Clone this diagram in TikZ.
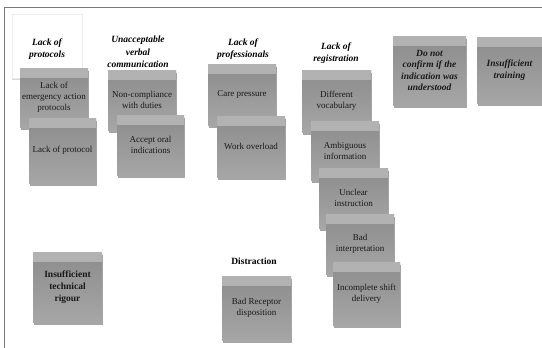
\documentclass[tikz,border=0pt]{standalone}
\usepackage{fontspec}
\setmainfont{Liberation Serif}
\usetikzlibrary{shadows}
\definecolor{bandgray}{RGB}{178,178,178}
\definecolor{bodytop}{RGB}{140,140,140}
\definecolor{bodybot}{RGB}{166,166,166}
\definecolor{txt}{RGB}{25,25,25}
\definecolor{framegray}{RGB}{120,120,120}
\tikzset{
  note/.style={rectangle, inner sep=2pt, align=center, text=txt,
    font=\fontsize{9}{11}\selectfont,
    top color=bodytop, bottom color=bodybot, draw=none,
    drop shadow={shadow xshift=0.5pt, shadow yshift=-2.5pt, opacity=0.35, fill=black},
    path picture={\fill[bandgray] (path picture bounding box.north west) rectangle ([yshift=-10pt]path picture bounding box.north east);}},
  notebi/.style={note, font=\fontsize{9.5}{11.5}\selectfont\bfseries\itshape},
  noteb/.style={note, font=\fontsize{9.5}{12}\selectfont\bfseries},
  ttl/.style={align=center, font=\fontsize{9.5}{12.5}\selectfont\bfseries\itshape, text=black},
  whitenote/.style={rectangle, fill=white, draw=gray!15, line width=0.4pt,
    drop shadow={shadow xshift=0pt, shadow yshift=-1.5pt, opacity=0.15, fill=black}},
}
\begin{document}
\begin{tikzpicture}[x=1pt,y=-1pt]
\useasboundingbox (0,0) rectangle (542,348);
\fill[white] (0,0) rectangle (542,348);
% frame
\draw[framegray, line width=1.6pt] (4.5,348) -- (4.5,7.5) -- (542,7.5);

% white note with title
\node[whitenote, minimum width=70pt, minimum height=64pt] (w1) at (47,46) {};
\node[ttl] (t1) at (47,49) {Lack of\\protocols};
\node[ttl] (t2) at (138,52) {Unacceptable\\verbal\\communication};
\node[ttl] (t3) at (243,49) {Lack of\\professionals};
\node[ttl] (t4) at (336,53) {Lack of\\registration};
\node[font=\fontsize{9.5}{12}\selectfont\bfseries] (t5) at (254,261) {Distraction};

% column 1
\node[note, minimum width=68pt, minimum height=59pt] (n1) at (54,97.5) {Lack of\\emergency action\\protocols};
\node[note, minimum width=67pt, minimum height=65pt] (n2) at (62.5,150.5) {Lack of protocol};
% column 2
\node[note, minimum width=68pt, minimum height=60pt] (n3) at (142,100) {Non-compliance\\with duties};
\node[note, minimum width=67pt, minimum height=60pt] (n4) at (150.5,145) {Accept oral\\indications};
% column 3
\node[note, minimum width=68pt, minimum height=61pt] (n5) at (242,94.5) {Care pressure};
\node[note, minimum width=68pt, minimum height=61pt] (n6) at (251,146.5) {Work overload};
% column 4
\node[note, minimum width=69pt, minimum height=62pt] (n7) at (336.5,101) {Different\\vocabulary};
\node[note, minimum width=68pt, minimum height=59pt] (n8) at (345,150.5) {Ambiguous\\information};
\node[note, minimum width=69pt, minimum height=60pt] (n9) at (353.5,198) {Unclear\\instruction};
\node[note, minimum width=68pt, minimum height=60pt] (n10) at (360,244) {Bad\\interpretation};
\node[note, minimum width=67pt, minimum height=63pt] (n11) at (366.5,293.5) {Incomplete shift\\delivery};
% right
\node[notebi, minimum width=73pt, minimum height=69pt] (n12) at (429.5,70.5) {Do not\\confirm if the\\indication was\\understood};
\node[notebi, minimum width=65pt, minimum height=66pt] (n13) at (509.5,70) {Insufficient\\training};
% bottom
\node[noteb, minimum width=69pt, minimum height=70pt] (n14) at (67.5,287) {Insufficient\\technical\\rigour};
\node[note, minimum width=69pt, minimum height=64pt] (n15) at (256.5,308) {Bad Receptor\\disposition};
\end{tikzpicture}
\end{document}
